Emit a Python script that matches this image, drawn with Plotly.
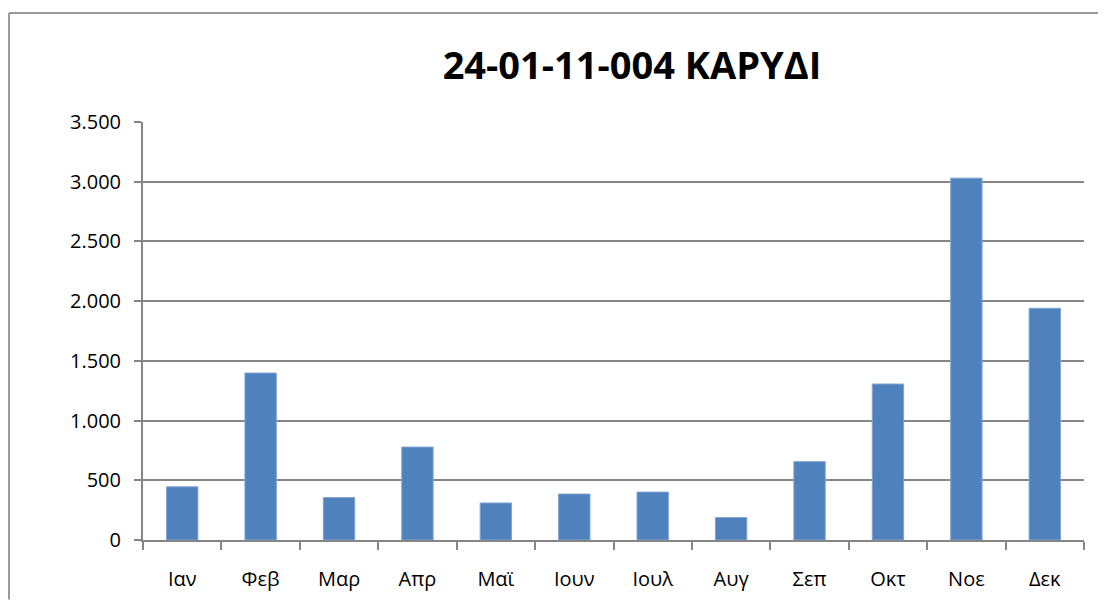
import plotly.graph_objects as go

months = ["Ιαν", "Φεβ", "Μαρ", "Απρ", "Μαϊ", "Ιουν", "Ιουλ", "Αυγ", "Σεπ", "Οκτ", "Νοε", "Δεκ"]
values = [445, 1398, 355, 778, 310, 385, 401, 188, 656, 1306, 3030, 1940]
title_text = "24-01-11-004 ΚΑΡΥΔΙ"

# page offset of the figure (body margin), in px
OX, OY = 8, 6
W, H = 1106 - 16, 612 - 16
L, R, T, B = 143 - OX, 1084 - OX, 120 - OY, 542 - OY

fig = go.Figure(
    go.Bar(
        x=months,
        y=values,
        marker=dict(color="#4F81BD", line=dict(color="#7FA3D3", width=1)),
        width=0.4,
    )
)

gray = "#868686"
fig.update_layout(
    width=W,
    height=H,
    margin=dict(l=L, r=W - R, t=T, b=H - B, pad=0),
    paper_bgcolor="white",
    plot_bgcolor="white",
    separators=",.",
    showlegend=False,
    title=dict(
        text=title_text,
        x=(632 - OX) / W,
        xref="container",
        xanchor="center",
        y=1 - (64 - OY) / H,
        yref="container",
        yanchor="middle",
        font=dict(family="Open Sans", size=38, color="black", weight="bold"),
    ),
    font=dict(family="Open Sans", size=20, color="black"),
)

fig.update_xaxes(
    type="category",
    showgrid=False,
    showline=True,
    linecolor=gray,
    linewidth=2,
    ticks="outside",
    tickson="boundaries",
    ticklen=8,
    tickwidth=2,
    tickcolor=gray,
    ticklabelstandoff=20,
    tickfont=dict(family="Open Sans", size=20, color="black"),
    zeroline=False,
)

fig.update_yaxes(
    range=[0, 3500],
    dtick=500,
    tick0=0,
    tickformat=",d",
    showgrid=True,
    gridcolor=gray,
    gridwidth=1.5,
    showline=True,
    linecolor=gray,
    linewidth=2,
    ticks="outside",
    ticklen=7,
    tickwidth=2,
    tickcolor=gray,
    ticklabelstandoff=9,
    tickfont=dict(family="Open Sans", size=20, color="black"),
    zeroline=False,
)

# outer chart frame: only left and top edges fall inside the picture
pw, ph = R - L, B - T
fx = (8 - OX + 1 - L) / pw
fy = (B - (10 - OY)) / ph
frame = dict(color="#9a9a9a", width=2)
fig.add_shape(type="line", xref="paper", yref="paper",
              x0=fx, x1=fx, y0=(B - H) / ph, y1=fy, line=frame, layer="below")
fig.add_shape(type="line", xref="paper", yref="paper",
              x0=fx, x1=(W - L) / pw, y0=fy, y1=fy, line=frame, layer="below")

fig.write_html("out.html")
